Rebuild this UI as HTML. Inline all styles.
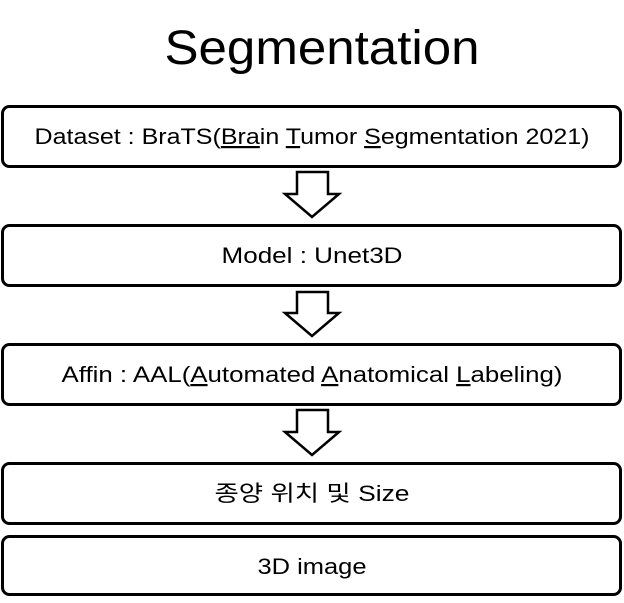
<!DOCTYPE html>
<html><head><style>
body{margin:0;background:#fff;}
svg text{font-family:"Liberation Sans","Noto Sans CJK KR",sans-serif;}
</style></head><body>
<svg width="624" height="598" xmlns="http://www.w3.org/2000/svg">
<text x="322" y="64" font-size="48" text-anchor="middle" fill="#000" textLength="315" lengthAdjust="spacingAndGlyphs">Segmentation</text>
<g fill="#fff" stroke="#000" stroke-width="3">
<rect x="2.5" y="106.5" width="618" height="60" rx="7"/>
<rect x="2.5" y="225.5" width="618" height="60" rx="7"/>
<rect x="2.5" y="344.5" width="618" height="60" rx="7"/>
<rect x="2.5" y="463.5" width="618" height="60" rx="7"/>
<rect x="2.5" y="536.5" width="618" height="58" rx="7"/>
</g>
<g fill="#fff" stroke="#000" stroke-width="2.5" stroke-linejoin="miter">
<polygon points="297,172 328,172 328,194 339,194 312,217 285,194 297,194"/>
<polygon points="297,292 328,292 328,313 339,313 312,336 285,313 297,313"/>
<polygon points="297,410 328,410 328,432 339,432 312,455 285,432 297,432"/>
</g>
<g font-size="22" text-anchor="middle" fill="#000" lengthAdjust="spacingAndGlyphs">
<text x="312" y="144" textLength="555" lengthAdjust="spacingAndGlyphs">Dataset : BraTS(<tspan text-decoration="underline">Bra</tspan>in <tspan text-decoration="underline">T</tspan>umor <tspan text-decoration="underline">S</tspan>egmentation 2021)</text>
<text x="312" y="263" textLength="181" lengthAdjust="spacingAndGlyphs">Model : Unet3D</text>
<text x="312" y="382" textLength="501" lengthAdjust="spacingAndGlyphs">Affin : AAL(<tspan text-decoration="underline">A</tspan>utomated <tspan text-decoration="underline">A</tspan>natomical <tspan text-decoration="underline">L</tspan>abeling)</text>
<text x="312" y="501" textLength="195" lengthAdjust="spacingAndGlyphs">종양 위치 및 Size</text>
<text x="312" y="574" textLength="109" lengthAdjust="spacingAndGlyphs">3D image</text>
</g>
</svg>
</body></html>
